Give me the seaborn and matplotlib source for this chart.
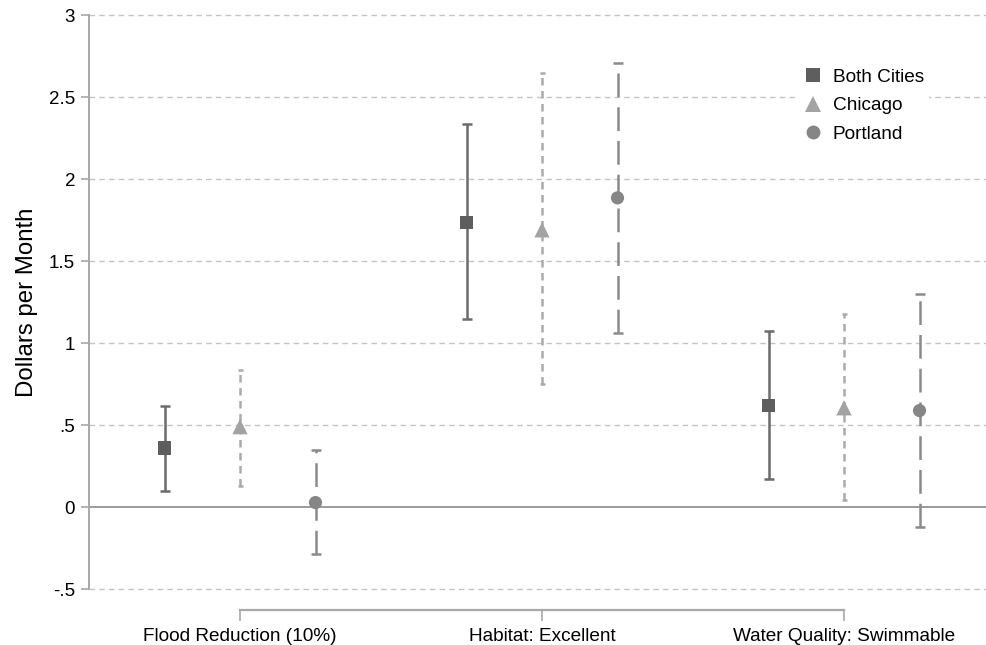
import matplotlib
matplotlib.use("Agg")
import matplotlib.pyplot as plt
from matplotlib.lines import Line2D
import pandas as pd
import seaborn as sns

# Willingness to pay estimates with 95% CI
attributes = ["Flood Reduction (10%)", "Habitat: Excellent", "Water Quality: Swimmable"]
groups = ["Both Cities", "Chicago", "Portland"]

both_est = [0.36, 1.735, 0.62]
both_lo = [0.095, 1.145, 0.17]
both_hi = [0.615, 2.335, 1.075]

chicago_est = [0.49, 1.69, 0.605]
chicago_lo = [0.13, 0.75, 0.04]
chicago_hi = [0.835, 2.645, 1.175]

portland_est = [0.027, 1.885, 0.588]
portland_lo = [-0.285, 1.06, -0.12]
portland_hi = [0.345, 2.71, 1.30]

y_ticks = [-0.5, 0, 0.5, 1, 1.5, 2, 2.5, 3]
y_tick_labels = ["-.5", "0", ".5", "1", "1.5", "2", "2.5", "3"]

STYLE = {
    "Both Cities": dict(offset=-0.25, marker="s", color="#5e5e5e", bar="#6b6b6b",
                        ls="-", ms=9.5, cap=3.5),
    "Chicago": dict(offset=0.0, marker="^", color="#a3a3a3", bar="#ababab",
                    ls=(0, (3, 2.2)), ms=11, cap=1.8),
    "Portland": dict(offset=0.25, marker="o", color="#868686", bar="#8a8a8a",
                     ls=(0, (9.5, 4)), ms=9.5, cap=3.5),
}


def build_frame() -> pd.DataFrame:
    rows = []
    series = {
        "Both Cities": (both_est, both_lo, both_hi),
        "Chicago": (chicago_est, chicago_lo, chicago_hi),
        "Portland": (portland_est, portland_lo, portland_hi),
    }
    for g, (est, lo, hi) in series.items():
        for i, attr in enumerate(attributes):
            rows.append({"group": g, "attribute": attr, "pos": i + 1,
                         "est": est[i], "lo": lo[i], "hi": hi[i]})
    df = pd.DataFrame(rows)
    df["x"] = df["pos"] + df["group"].map(lambda g: STYLE[g]["offset"])
    return df


def main() -> None:
    sns.set_theme(style="white")
    plt.rcParams.update({
        "font.family": ["Liberation Sans", "DejaVu Sans"],
        "axes.edgecolor": "#a8a8a8",
        "text.color": "black",
        "axes.labelcolor": "black",
    })
    df = build_frame()

    fig = plt.figure(figsize=(9.87, 6.45), dpi=100)
    ax = fig.add_axes([89 / 987, 56 / 645, 898 / 987, 574 / 645])

    for y in y_ticks:
        if y != 0:
            ax.axhline(y, color="#c4c4c4", lw=1.0, ls=(0, (4, 3)), zorder=0,
                       clip_on=False)
    ax.axhline(0, color="#808080", lw=1.1, zorder=1)

    for g in groups:
        st = STYLE[g]
        part = df[df["group"] == g]
        err = [part["est"] - part["lo"], part["hi"] - part["est"]]
        _, caps, bars = ax.errorbar(part["x"], part["est"], yerr=err, fmt="none",
                                    ecolor=st["bar"], elinewidth=1.8,
                                    capsize=st["cap"], capthick=1.8, zorder=2)
        for b in bars:
            b.set_linestyle(st["ls"])
        sns.scatterplot(data=part, x="x", y="est", marker=st["marker"],
                        color=st["color"], s=st["ms"] ** 2, edgecolor="none",
                        linewidth=0, ax=ax, zorder=3, legend=False)

    ax.set_xlim(0.5, 0.5 + 898 / 302)
    ax.set_ylim(-0.5, 3)
    ax.set_yticks(y_ticks)
    ax.set_yticklabels(y_tick_labels)
    ax.set_xticks([1, 2, 3])
    ax.set_xticklabels(attributes)
    ax.set_xlabel("")
    ax.set_ylabel("Dollars per Month", fontsize=17.3, labelpad=8, color="black")

    for side in ("top", "right"):
        ax.spines[side].set_visible(False)
    ax.spines["left"].set_linewidth(1.4)
    ax.spines["bottom"].set_position(("outward", 15))
    ax.spines["bottom"].set_bounds(1, 3)
    ax.spines["bottom"].set_linewidth(1.6)
    ax.tick_params(axis="y", which="major", left=True, length=6, width=1.2,
                   color="#a8a8a8", pad=4, labelcolor="black", labelsize=13.5)
    ax.tick_params(axis="x", which="major", bottom=True, length=8, width=1.2,
                   color="#a8a8a8", pad=5, labelcolor="black", labelsize=13.7)

    handles = [
        Line2D([], [], ls="none", marker=STYLE[g]["marker"],
               color=STYLE[g]["color"], markersize=STYLE[g]["ms"] + 0.5,
               markeredgewidth=0)
        for g in groups
    ]
    leg = ax.legend(handles, groups, loc="upper left",
                    bbox_to_anchor=(786 / 987, 1 - 53 / 645),
                    bbox_transform=fig.transFigure, frameon=True, fontsize=13.7,
                    handletextpad=0.45, labelspacing=0.6, borderpad=0.3,
                    handlelength=1.2)
    leg.get_frame().set_facecolor("white")
    leg.get_frame().set_edgecolor("none")
    leg.get_frame().set_alpha(1.0)
    for t in leg.get_texts():
        t.set_color("black")

    fig.savefig("out.png", dpi=100, facecolor="white")


if __name__ == "__main__":
    main()
